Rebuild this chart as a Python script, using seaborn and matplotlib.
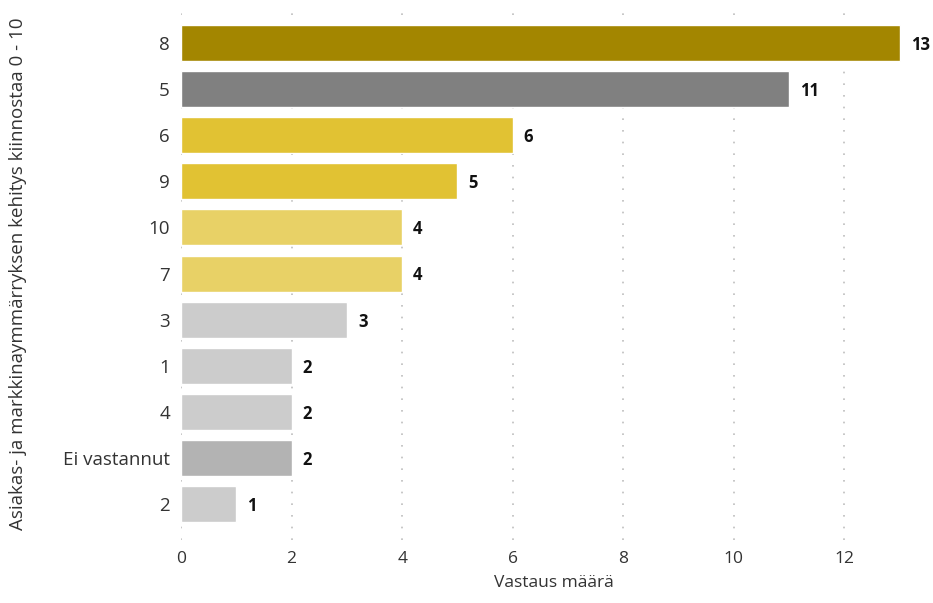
import matplotlib
matplotlib.use("Agg")
import matplotlib.pyplot as plt
import seaborn as sns
import pandas as pd

categories = ["8", "5", "6", "9", "10", "7", "3", "1", "4", "Ei vastannut", "2"]
counts = [13, 11, 6, 5, 4, 4, 3, 2, 2, 2, 1]
colors = ["#A38600", "#808080", "#E1C233", "#E1C233", "#E8D166", "#E8D166",
          "#CCCCCC", "#CCCCCC", "#CCCCCC", "#B3B3B3", "#CCCCCC"]
x_ticks = [0, 2, 4, 6, 8, 10, 12]

df = pd.DataFrame({"vastaus": categories, "maara": counts})

sns.set_style("white")
plt.rcParams["font.family"] = ["Open Sans", "DejaVu Sans"]

fig = plt.figure(figsize=(9.33, 6.03), dpi=100)
ax = fig.add_axes([0.194, 0.1045, 0.80, 0.8835])

sns.barplot(data=df, x="maara", y="vastaus", hue="vastaus",
            palette=dict(zip(categories, colors)), order=categories,
            width=0.78, legend=False, ax=ax, saturation=1)

ax.set_xlim(0, 13.5)
ax.set_ylim(len(categories) - 0.23, -0.77)
ax.set_xticks(x_ticks)
ax.set_xticklabels([str(t) for t in x_ticks], fontsize=12.5, color="#333333")
ax.tick_params(axis="y", labelsize=13.5, colors="#333333", length=0, pad=8)
ax.tick_params(axis="x", length=0, pad=8)

for x in x_ticks:
    ax.axvline(x, color="#BDBDBD", linestyle=(0, (1, 6)), linewidth=1.2, zorder=0)

for spine in ax.spines.values():
    spine.set_visible(False)

for i, v in enumerate(counts):
    ax.text(v + 0.2, i + 0.04, str(v), va="center", ha="left",
            fontsize=12, fontweight="bold", color="#111111")

ax.set_xlabel("Vastaus määrä", fontsize=12.5, color="#333333", labelpad=6)
ax.set_ylabel("Asiakas- ja markkinaymmärryksen kehitys kiinnostaa 0 - 10",
              fontsize=13.5, color="#333333")
ax.yaxis.set_label_coords(-0.206, 0.5)

fig.savefig("out.png", dpi=100)
